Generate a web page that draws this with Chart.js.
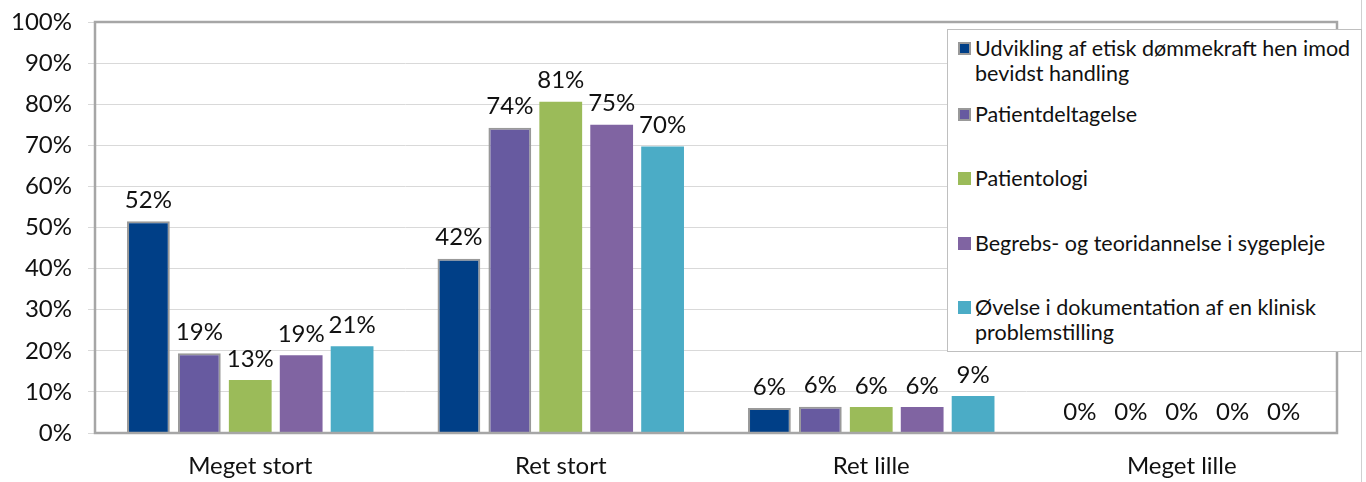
<!DOCTYPE html>
<html>
<head>
<meta charset="utf-8">
<script src="https://cdn.jsdelivr.net/npm/chart.js@4.4.1/dist/chart.umd.min.js"></script>
<style>
    body { margin: 0; background: #fff; }
    #wrap { position: relative; width: 1366px; height: 482px; }
    #edge { position: absolute; left: 1361px; top: 0; width: 1px; height: 482px; background: #d0d0d0; }
    #legend {
        position: absolute; left: 947px; top: 29px; width: 415px; height: 323px;
        background: #fff; border: 1px solid #bfbfbf; box-sizing: border-box;
        font-family: Lato, sans-serif; font-size: 21.5px; color: #111;
    }
    .item { position: absolute; left: 10px; right: 4px; display: flex; line-height: 25px; }
    .box { flex: 0 0 13px; height: 13px; margin: 6px 4px 0 0; box-sizing: border-box; }
</style>
</head>
<body>
<div id="wrap">
    <canvas id="chart" width="1366" height="482"></canvas>
    <div id="edge"></div>
    <div id="legend"></div>
</div>
<script>
const categories = ['Meget stort', 'Ret stort', 'Ret lille', 'Meget lille'];
const seriesNames = [
    'Udvikling af etisk dømmekraft hen imod bevidst handling',
    'Patientdeltagelse',
    'Patientologi',
    'Begrebs- og teoridannelse i sygepleje',
    'Øvelse i dokumentation af en klinisk problemstilling'
];
const udvikling = [51.5, 42.4, 6.1, 0];
const patientdeltagelse = [19.4, 74.3, 6.4, 0];
const patientologi = [12.9, 80.6, 6.3, 0];
const begrebs = [18.9, 75.0, 6.3, 0];
const oevelse = [21.1, 69.7, 9.0, 0];
const yTicks = [0, 10, 20, 30, 40, 50, 60, 70, 80, 90, 100];

const colors = ['#003f87', '#675aa0', '#9bbb59', '#8064a2', '#4bacc6'];
const borders = ['#999999', '#999999', null, null, null];
const allValues = [udvikling, patientdeltagelse, patientologi, begrebs, oevelse];

const datasets = allValues.map((vals, i) => ({
    label: seriesNames[i],
    data: vals,
    backgroundColor: colors[i],
    borderColor: borders[i] || colors[i],
    borderWidth: borders[i] ? 2 : 0,
    categoryPercentage: 0.82,
    barPercentage: 0.84
}));

// value labels above bars + frame around plot area
const extras = {
    id: 'extras',
    afterDatasetsDraw(chart) {
        const ctx = chart.ctx;
        ctx.save();
        ctx.font = '24px Lato, sans-serif';
        ctx.fillStyle = '#111';
        ctx.textAlign = 'center';
        ctx.textBaseline = 'bottom';
        chart.data.datasets.forEach((ds, i) => {
            chart.getDatasetMeta(i).data.forEach((bar, j) => {
                ctx.fillText(Math.round(ds.data[j]) + '%', bar.x, bar.y - 9);
            });
        });
        const a = chart.chartArea;
        ctx.strokeStyle = '#a6a6a6';
        ctx.lineWidth = 2.5;
        ctx.strokeRect(a.left, a.top, a.right - a.left, a.bottom - a.top);
        ctx.restore();
    }
};

new Chart(document.getElementById('chart'), {
    type: 'bar',
    data: { labels: categories, datasets: datasets },
    options: {
        responsive: false,
        animation: false,
        layout: { padding: { top: 12, right: 29, left: 0, bottom: 0 } },
        plugins: { legend: { display: false }, tooltip: { enabled: false } },
        scales: {
            x: {
                grid: { display: false, drawTicks: false },
                border: { display: false },
                ticks: { color: '#111', font: { family: 'Lato', size: 24 }, padding: 19 },
                afterFit(s) { s.height = 49; }
            },
            y: {
                min: 0, max: 100,
                afterBuildTicks(s) { s.ticks = yTicks.map(v => ({ value: v })); },
                grid: { color: '#d9d9d9', tickColor: '#d9d9d9', tickLength: 7 },
                border: { display: false },
                ticks: { color: '#111', font: { family: 'Lato', size: 24, lineHeight: 0.5 }, padding: 16, callback: v => v + '%' },
                afterFit(s) { s.width = 95; }
            }
        }
    },
    plugins: [extras]
});

const legend = document.getElementById('legend');
const rowTops = [6, 72, 136, 201, 265];
seriesNames.forEach((name, i) => {
    const it = document.createElement('div');
    it.className = 'item';
    it.style.top = rowTops[i] + 'px';
    const b = document.createElement('span');
    b.className = 'box';
    b.style.background = colors[i];
    if (borders[i]) b.style.border = '2px solid ' + borders[i];
    const t = document.createElement('span');
    t.textContent = name;
    it.appendChild(b);
    it.appendChild(t);
    legend.appendChild(it);
});
</script>
</body>
</html>
